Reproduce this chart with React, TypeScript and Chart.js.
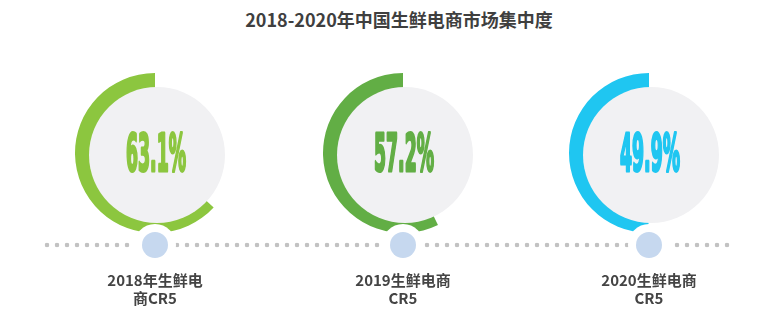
import React, { useEffect, useRef } from "react";
import { Chart, registerables } from "chart.js";

Chart.register(...registerables);

// ---- data ----
const chartTitle = "2018-2020年中国生鲜电商市场集中度";
const categories = ["2018年生鲜电\n商CR5", "2019生鲜电商\nCR5", "2020生鲜电商\nCR5"];
const cr5Values = [63.1, 57.2, 49.9];
const ringColors = ["#8cc63f", "#62ae45", "#1fc6f1"];

// ---- layout ----
const ringCentersX = [155, 403, 649];
const ringCenterY = 153;
const ringSize = 160; // outer diameter
const timelineY = 245;
const FONT_CJK = '"Noto Sans CJK SC", "Noto Sans", sans-serif';

const innerDiscPlugin = {
  id: "innerDisc",
  afterDatasetsDraw(chart: any, _args: any, opts: any) {
    const meta = chart.getDatasetMeta(0);
    const arc = meta.data[0];
    if (!arc) return;
    const { x, y } = arc.getProps(["x", "y"], true);
    const ctx = chart.ctx;
    ctx.save();
    ctx.beginPath();
    ctx.arc(x + 2, y + 2, 68, 0, Math.PI * 2);
    ctx.fillStyle = "#f1f1f3";
    ctx.fill();
    // percentage text
    const value = opts.value as number;
    const text = value.toFixed(1) + "%";
    ctx.font = 'bold 52px "Liberation Sans Narrow", "DejaVu Sans Condensed", "Liberation Sans", sans-serif';
    ctx.fillStyle = opts.color;
    ctx.strokeStyle = opts.color;
    ctx.lineJoin = "round";
    ctx.textAlign = "center";
    ctx.textBaseline = "alphabetic";
    const w = ctx.measureText(text).width;
    const sx = 60 / w;
    ctx.translate(x + 1, y + 18);
    ctx.scale(sx, 1);
    ctx.lineWidth = 3;
    ctx.strokeText(text, 0, 0);
    ctx.fillText(text, 0, 0);
    ctx.restore();
  },
};

function Ring({ value, color }: { value: number; color: string }) {
  const ref = useRef<HTMLCanvasElement>(null);
  useEffect(() => {
    if (!ref.current) return;
    const chart = new Chart(ref.current, {
      type: "doughnut",
      data: {
        labels: ["rest", "CR5"],
        datasets: [
          {
            data: [100 - value, value],
            backgroundColor: ["rgba(0,0,0,0)", color],
            borderWidth: 0,
            hoverOffset: 0,
          },
        ],
      },
      options: {
        responsive: false,
        animation: false,
        cutout: "77%",
        rotation: 0,
        layout: { padding: 0 },
        events: [],
        plugins: {
          legend: { display: false },
          tooltip: { enabled: false },
          innerDisc: { value, color },
        } as any,
      },
      plugins: [innerDiscPlugin],
    });
    return () => chart.destroy();
  }, [value, color]);
  return <canvas ref={ref} width={ringSize} height={ringSize} />;
}

export default function App() {
  return (
    <div
      style={{
        position: "absolute",
        left: 0,
        top: 0,
        width: 764,
        height: 321,
        background: "#ffffff",
        overflow: "hidden",
        fontFamily: FONT_CJK,
      }}
    >
      <div
        style={{
          position: "absolute",
          left: 199,
          top: 6,
          width: 400,
          textAlign: "center",
          fontSize: 18,
          lineHeight: "26px",
          fontWeight: 700,
          color: "#3f3f3f",
          whiteSpace: "nowrap",
        }}
      >
        {chartTitle}
      </div>

      {cr5Values.map((v, i) => (
        <div
          key={"ring" + i}
          style={{
            position: "absolute",
            left: ringCentersX[i] - ringSize / 2,
            top: ringCenterY - ringSize / 2,
            width: ringSize,
            height: ringSize,
          }}
        >
          <Ring value={v} color={ringColors[i]} />
        </div>
      ))}

      {/* dotted timeline */}
      <div
        style={{
          position: "absolute",
          left: 42,
          top: timelineY - 5,
          width: 690,
          height: 10,
          backgroundImage: "radial-gradient(circle at 5px 5px, #c2c2c2 2px, rgba(194,194,194,0) 2.6px)",
          backgroundSize: "10px 10px",
          backgroundRepeat: "repeat-x",
        }}
      />

      {categories.map((c, i) => (
        <React.Fragment key={"node" + i}>
          <div
            style={{
              position: "absolute",
              left: ringCentersX[i] - 21,
              top: timelineY - 21,
              width: 42,
              height: 42,
              borderRadius: "50%",
              background: "#ffffff",
            }}
          />
          <div
            style={{
              position: "absolute",
              left: ringCentersX[i] - 13,
              top: timelineY - 13,
              width: 26,
              height: 26,
              borderRadius: "50%",
              background: "#c6d8ef",
            }}
          />
          <div
            style={{
              position: "absolute",
              left: ringCentersX[i] - 90,
              top: 271,
              width: 180,
              textAlign: "center",
              fontSize: 15,
              lineHeight: "18px",
              fontWeight: 700,
              color: "#444444",
              whiteSpace: "pre-line",
            }}
          >
            {c}
          </div>
        </React.Fragment>
      ))}
    </div>
  );
}
